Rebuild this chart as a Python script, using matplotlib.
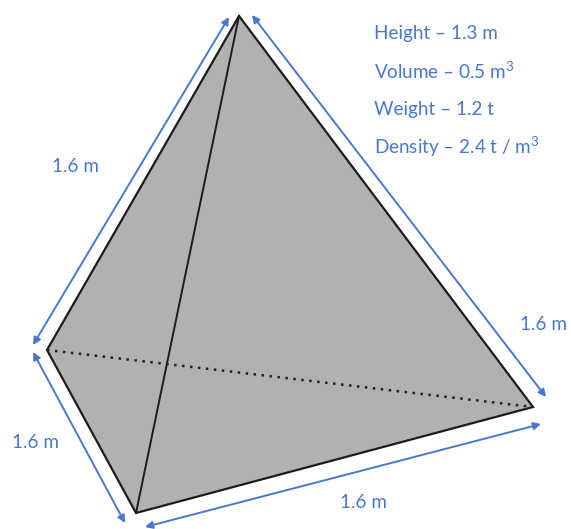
import matplotlib
matplotlib.use("Agg")
import matplotlib.pyplot as plt
from matplotlib.patches import Polygon

plt.rcParams['font.family'] = ['Lato', 'DejaVu Sans']
plt.rcParams['mathtext.fontset'] = 'custom'
plt.rcParams['mathtext.rm'] = 'Lato'
plt.rcParams['mathtext.default'] = 'regular'

BLUE = '#4a78cc'

# corners of the pyramid in picture coordinates
apex = (239, 16)
left = (47, 350)
bottom = (136, 513)
right = (533, 407)

# dimension arrows: start, end
arrows = [
    ((229, 17), (33, 345)),
    ((252, 15), (546, 397)),
    ((33, 352), (125, 523)),
    ((145, 527), (541, 424)),
]

edge_labels = ['1.6 m', '1.6 m', '1.6 m', '1.6 m']
edge_label_x = [76, 544, 36, 363]
edge_label_y = [167, 325, 443, 503]

info_labels = ['Height – 1.3 m', 'Volume – 0.5 m$^{3}$', 'Weight – 1.2 t', 'Density – 2.4 t / m$^{3}$']
info_y = [33, 71, 109, 147]
info_x = 374

fig = plt.figure(figsize=(5.71, 5.29), dpi=100)
ax = fig.add_axes([0, 0, 1, 1])
ax.set_xlim(0, 571)
ax.set_ylim(529, 0)
ax.axis('off')

# grey body
ax.add_patch(Polygon([apex, left, bottom, right], closed=True, facecolor='#b1b1b1',
                     edgecolor='#1c1c1c', linewidth=1.6, joinstyle='miter'))
# front edge
ax.plot([apex[0], bottom[0]], [apex[1], bottom[1]], color='#1c1c1c', lw=1.4)
# hidden edge
ax.plot([left[0], right[0]], [left[1], right[1]], color='#222222', lw=1.8,
        linestyle=(0, (1.0, 2.2)))

for start, end in arrows:
    ax.annotate('', xy=end, xytext=start,
                arrowprops=dict(arrowstyle='<|-|>', color=BLUE, lw=1.4,
                                mutation_scale=11, shrinkA=0, shrinkB=0))

for txt, x, y in zip(edge_labels, edge_label_x, edge_label_y):
    ax.text(x, y, txt, color=BLUE, fontsize=13.6, ha='center', va='center')

for txt, y in zip(info_labels, info_y):
    ax.text(info_x, y, txt, color=BLUE, fontsize=13.6, ha='left', va='center')

fig.savefig('out.png', dpi=100)
